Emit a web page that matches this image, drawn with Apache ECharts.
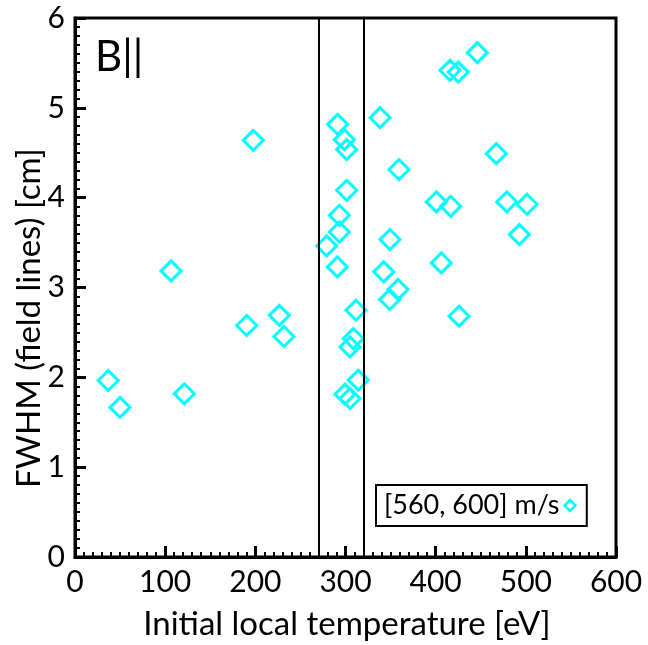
<!DOCTYPE html>
<html><head><meta charset="utf-8">
<script src="https://cdn.jsdelivr.net/npm/echarts@6/dist/echarts.min.js"></script>
<style>html,body{margin:0;padding:0;background:#fff}#c{width:648px;height:645px}</style>
</head><body><div id="c"></div>
<script>
const xTemp = [36.9,49.9,121.2,106.5,190.4,197.7,226.6,231.8,279.1,291.3,298.7,301.3,301.3,293.2,293.2,290.9,311.6,308.7,305,314.2,299.4,305,338.3,359.3,349.3,342.4,358.2,349,400.7,416.6,406.2,425.9,467.2,478.9,501.3,492.8,446.2,415.9,425.1];
const yFwhm = [1.965,1.665,1.817,3.185,2.577,4.638,2.69,2.455,3.463,4.816,4.646,4.535,4.082,3.804,3.618,3.229,2.747,2.432,2.339,1.969,1.813,1.765,4.891,4.313,3.534,3.174,2.978,2.867,3.953,3.904,3.274,2.681,4.49,3.953,3.927,3.589,5.614,5.417,5.398];
const vLines = [270, 320];
const seriesName = '[560, 600] m/s';
const panelLabel = 'B||';
const xTitle = 'Initial local temperature [eV]';
const yTitle = 'FWHM (field lines) [cm]';

const FONT = 'Lato';
const chart = echarts.init(document.getElementById('c'));
chart.setOption({
  animation: false,
  grid: {left: 75, top: 18, right: 32, bottom: 88, show: true, borderColor: '#000', borderWidth: 3, backgroundColor: 'rgba(0,0,0,0)'},
  xAxis: {type: 'value', min: 0, max: 600, interval: 100,
    axisLine: {show: true, lineStyle: {color: '#000', width: 3}},
    axisTick: {show: true, inside: true, length: 11, lineStyle: {color: '#000', width: 3}},
    minorTick: {show: true, splitNumber: 10, length: 5, lineStyle: {color: '#000', width: 2}},
    splitLine: {show: false},
    axisLabel: {fontFamily: FONT, fontSize: 30, color: '#000', margin: 10}},
  yAxis: {type: 'value', min: 0, max: 6, interval: 1,
    axisLine: {show: true, lineStyle: {color: '#000', width: 3}},
    axisTick: {show: true, inside: true, length: 11, lineStyle: {color: '#000', width: 3}},
    minorTick: {show: true, splitNumber: 10, length: 5, lineStyle: {color: '#000', width: 2}},
    splitLine: {show: false},
    axisLabel: {fontFamily: FONT, fontSize: 30, color: '#000', margin: 10}},
  legend: {
    show: true, left: 376, top: 485, orient: 'horizontal', align: 'right',
    borderColor: '#000', borderWidth: 2, borderRadius: 0,
    padding: [7, 10, 7, 8], itemWidth: 11, itemHeight: 11, itemGap: 4,
    textStyle: {fontFamily: FONT, fontSize: 27, color: '#000'},
    data: [{name: seriesName, icon: 'diamond', itemStyle: {color: '#fff', borderColor: '#00FFFF', borderWidth: 2.5}}]
  },
  graphic: [
    {type: 'text', left: 95, top: 36, style: {text: panelLabel, font: '42px ' + FONT, fill: '#000'}},
    {type: 'text', x: 347, y: 624, style: {text: xTitle, font: '33px ' + FONT, fill: '#000', align: 'center', verticalAlign: 'middle'}},
    {type: 'text', x: 29, y: 318, rotation: Math.PI / 2, style: {text: yTitle, font: '33px ' + FONT, fill: '#000', align: 'center', verticalAlign: 'middle'}}
  ],
  series: [{
    name: seriesName, type: 'scatter', symbol: 'diamond', symbolSize: 20,
    itemStyle: {color: 'rgba(0,0,0,0)', borderColor: '#00FFFF', borderWidth: 3, opacity: 1},
    data: xTemp.map((x, i) => [x, yFwhm[i]]),
    markLine: {silent: true, symbol: 'none', label: {show: false},
      lineStyle: {color: '#000', width: 2, type: 'solid'},
      data: vLines.map(v => ({xAxis: v}))}
  }]
});
</script></body></html>
